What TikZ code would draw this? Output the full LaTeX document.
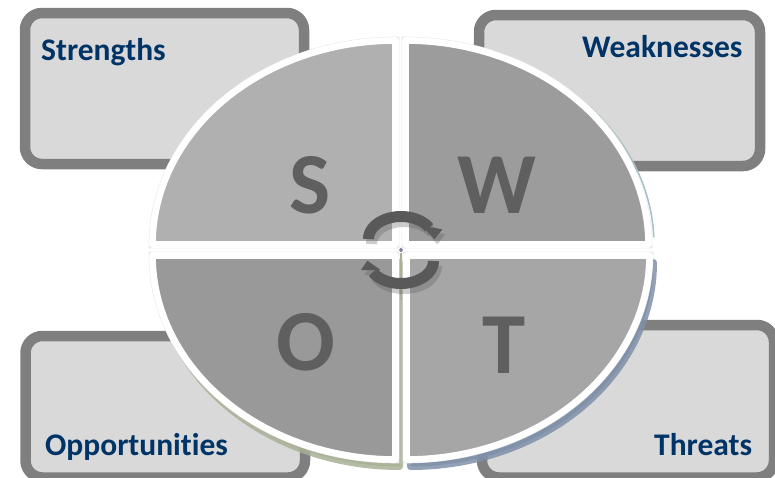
\documentclass[tikz,border=0pt]{standalone}
\usepackage{fontspec}
\setmainfont[Ligatures=NoCommon]{Carlito}
\definecolor{boxedge}{HTML}{7F7F7F}
\definecolor{boxfill}{HTML}{D9D9D9}
\definecolor{titleblue}{HTML}{003366}
\definecolor{letter}{HTML}{5F5F5F}
\definecolor{arrowgrey}{HTML}{595959}
\definecolor{rimolive}{HTML}{A8B096}
\definecolor{rimblue}{HTML}{7F90A8}
\definecolor{rimteal}{HTML}{A5C0C4}
\definecolor{pinmark}{HTML}{8080A0}
\newcommand\qp[4]{(#1,#2) -- plot[domain=0:90,samples=70] ({#1+#3*243*cos(\x)},{#2+#4*204*sin(\x)}) -- cycle}
\newcommand\upperarrow{plot[domain=180:30,samples=40] ({401+32.5*cos(\x)},{239-22.5*sin(\x)})}
\newcommand\lowerarrow{plot[domain=0:-150,samples=40] ({401+32.5*cos(\x)},{261-22.5*sin(\x)})}
\tikzset{
  swotbox/.style={draw=boxedge,fill=boxfill,line width=10.5pt,rounded corners=17pt},
  boxtitle/.style={anchor=base west,inner sep=0pt,text=titleblue,font=\fontsize{31.5}{32}\selectfont\bfseries},
  bigletter/.style={inner sep=0pt,text=letter,font=\fontsize{87}{87}\selectfont\bfseries},
  piece/.style={draw=white,line width=6.6pt,line join=round,preaction={draw=black!9,line width=7.6pt}},
  rim/.style={line width=7pt,line join=round,opacity=.85},
  arcline/.style={line width=11pt,draw=arrowgrey},
  archead/.style={fill=arrowgrey,draw=none}
}
\begin{document}
\begin{tikzpicture}[x=1pt,y=-1pt]
\useasboundingbox (0,0) rectangle (775,477);
\clip (0,0) rectangle (775,477);
% boxes
\draw[swotbox] (25,13) rectangle (304,164);
\draw[swotbox] (479,15) rectangle (760,166);
\draw[swotbox] (25.5,336) rectangle (305,477.5);
\draw[swotbox] (482,325) rectangle (774,477.5);
% titles
\node[boxtitle] (strengths) at (41,60) {Strengths};
\node[boxtitle] (weaknesses) at (582,57) {Weaknesses};
\node[boxtitle] (opportunities) at (45,455) {Opportunities};
\node[boxtitle] (threats) at (654,455) {Threats};
% rims
\draw[draw=rimteal,line width=1.5pt] plot[domain=2:60,samples=40] ({405.5+246*cos(\x)+2.5},{244.5-204*sin(\x)});
\begin{scope}[shift={(4,7)}]
\draw[rim,draw=rimolive,fill=rimolive] \qp{395.5}{255.5}{-1}{1};
\end{scope}
\draw[draw=rimolive,line width=2pt] (401,253) -- (401,300);
\begin{scope}[shift={(4,7)}]
\draw[rim,draw=rimblue,fill=rimblue] \qp{406.5}{255.5}{1}{1};
\end{scope}
% pie pieces
\draw[piece,fill=black!31] \qp{395.5}{244.5}{-1}{-1};
\draw[piece,fill=black!39] \qp{405.5}{244.5}{1}{-1};
\draw[piece,fill=black!40] \qp{395.5}{255.5}{-1}{1};
\draw[piece,fill=black!35] \qp{406.5}{255.5}{1}{1};
\fill[pinmark] (401,247.5) -- (403,250) -- (401,252.5) -- (399,250) -- cycle;
% letters
\node[bigletter] (letterS) at (310,185) {S};
\node[bigletter] (letterW) at (497,185) {W};
\node[bigletter] (letterO) at (306,342) {O};
\node[bigletter] (letterT) at (504,345) {T};
% cycle arrows: shadow
\begin{scope}[shift={(3,5)},opacity=.3]
\draw[arcline] \upperarrow;
\fill[archead] (422.7,226) -- (442.3,229.3) -- (434.3,239.3) -- cycle;
\draw[arcline] \lowerarrow;
\fill[archead] (367.3,260.7) -- (361,270) -- (380.7,270) -- cycle;
\end{scope}
% cycle arrows
\draw[arcline] \upperarrow;
\fill[archead] (422.7,226) -- (442.3,229.3) -- (434.3,239.3) -- cycle;
\draw[arcline] \lowerarrow;
\fill[archead] (367.3,260.7) -- (361,270) -- (380.7,270) -- cycle;
\end{tikzpicture}
\end{document}
